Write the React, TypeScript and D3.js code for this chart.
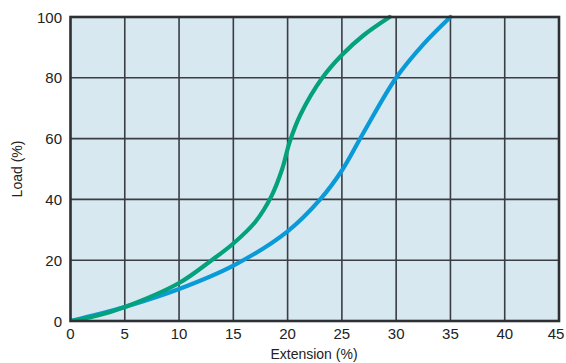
import React from "react";
import * as d3 from "d3";

const xTicks = [0, 5, 10, 15, 20, 25, 30, 35, 40, 45];
const yTicks = [0, 20, 40, 60, 80, 100];

const greenX = [0, 2.5, 5, 10, 13, 15, 17, 18.5, 19.5, 20.2, 21.2, 23.2, 25, 27, 29.4];
const greenY = [0, 1.8, 4.6, 12.5, 20, 25.5, 32.5, 41, 50, 59, 68, 80, 87.5, 94, 100];

const blueX = [0, 2.5, 5, 10, 15, 20, 23, 25, 27, 30, 32.5, 35];
const blueY = [0, 2.2, 4.6, 10.5, 18.2, 29.5, 40, 49.5, 62, 80, 91, 100];

const W = 566, H = 363;
const left = 70.5, right = 559, top = 17, bottom = 321;

export default function App() {
  const x = d3.scaleLinear().domain([0, 45]).range([left, right]);
  const y = d3.scaleLinear().domain([0, 100]).range([bottom, top]);
  const line = d3
    .line<[number, number]>()
    .x((d) => x(d[0]))
    .y((d) => y(d[1]))
    .curve(d3.curveCatmullRom.alpha(0.5));
  const g = greenX.map((v, i) => [v, greenY[i]] as [number, number]);
  const b = blueX.map((v, i) => [v, blueY[i]] as [number, number]);
  const font = "'Liberation Sans', Arial, Helvetica, sans-serif";
  return (
    <svg width={W} height={H} style={{ position: "absolute", left: 0, top: 0, background: "#fff" }}>
      <defs>
        <clipPath id="plot">
          <rect x={left} y={top - 3} width={right - left} height={bottom - top + 3} />
        </clipPath>
      </defs>
      <rect x={left} y={top} width={right - left} height={bottom - top} fill="#d8e8f1" />
      {xTicks.slice(1, -1).map((t) => (
        <line key={"gx" + t} x1={x(t)} x2={x(t)} y1={top} y2={bottom} stroke="#3a3d42" strokeWidth={1.6} />
      ))}
      {yTicks.slice(1, -1).map((t) => (
        <line key={"gy" + t} x1={left} x2={right} y1={y(t)} y2={y(t)} stroke="#3a3d42" strokeWidth={1.6} />
      ))}
      <g clipPath="url(#plot)">
        <path d={line(b) || ""} fill="none" stroke="#0a9ad8" strokeWidth={4.2} strokeLinecap="round" />
        <path d={line(g) || ""} fill="none" stroke="#04a27c" strokeWidth={4.2} strokeLinecap="round" />
      </g>
      <rect x={left} y={top} width={right - left} height={bottom - top} fill="none" stroke="#2d2f33" strokeWidth={2.6} />
      {yTicks.map((t) => (
        <text key={"ty" + t} x={62} y={y(t) + 5.5} textAnchor="end" fontFamily={font} fontSize={15} fill="#222">
          {t}
        </text>
      ))}
      {xTicks.map((t) => (
        <text key={"tx" + t} x={x(t) - (t === 45 ? 3 : 0)} y={339} textAnchor="middle" fontFamily={font} fontSize={15} fill="#222">
          {t}
        </text>
      ))}
      <text x={314} y={359} textAnchor="middle" fontFamily={font} fontSize={14} fill="#222">
        Extension (%)
      </text>
      <text transform={`translate(22,${(top + bottom) / 2}) rotate(-90)`} textAnchor="middle" fontFamily={font} fontSize={14} fill="#222">
        Load (%)
      </text>
    </svg>
  );
}
